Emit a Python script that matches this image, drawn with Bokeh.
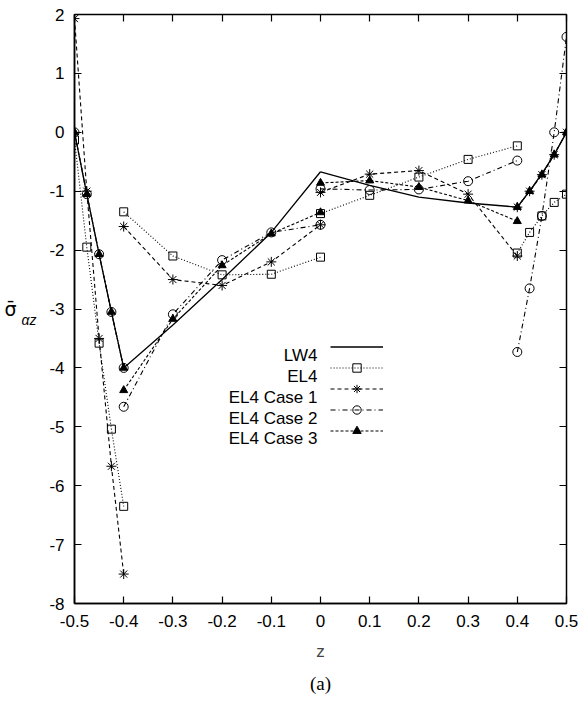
import math
from bokeh.plotting import figure
from bokeh.models import (Range1d, FixedTicker, LinearAxis, Label, Legend, LegendItem, Title)
from bokeh.embed import file_html
from bokeh.resources import INLINE

# ---- data (4 layers, 5 points each) ----
z_layers = [
    [-0.5, -0.475, -0.45, -0.425, -0.4],
    [-0.4, -0.3, -0.2, -0.1, 0.0],
    [0.0, 0.1, 0.2, 0.3, 0.4],
    [0.4, 0.425, 0.45, 0.475, 0.5],
]
lw4 = [[0.0, -1.05, -2.07, -3.05, -4.0],
       [-4.0, -3.27, -2.5, -1.70, -0.67],
       [-0.67, -0.9, -1.1, -1.2, -1.27],
       [-1.27, -1.0, -0.7, -0.38, 0.0]]
el4 = [[-0.13, -1.95, -3.58, -5.04, -6.35],
       [-1.35, -2.1, -2.42, -2.41, -2.12],
       [-1.38, -1.07, -0.76, -0.46, -0.23],
       [-2.05, -1.70, -1.42, -1.19, -1.05]]
el4_case1 = [[1.93, -1.0, -3.5, -5.67, -7.5],
             [-1.6, -2.5, -2.6, -2.2, -1.57],
             [-1.02, -0.71, -0.65, -1.05, -2.1],
             [-1.27, -1.0, -0.72, -0.38, 0.0]]
el4_case2 = [[0.0, -1.05, -2.07, -3.05, -4.0],
             [-4.66, -3.09, -2.17, -1.70, -1.57],
             [-0.96, -0.98, -0.97, -0.83, -0.48],
             [-3.73, -2.65, -1.42, 0.0, 1.62]]
el4_case3 = [[0.0, -1.05, -2.07, -3.05, -4.0],
             [-4.38, -3.17, -2.26, -1.72, -1.36],
             [-0.86, -0.82, -0.93, -1.16, -1.51],
             [-1.27, -1.0, -0.72, -0.38, 0.0]]

series_names = ["LW4", "EL4", "EL4 Case 1", "EL4 Case 2", "EL4 Case 3"]
x_ticks = [-0.5, -0.4, -0.3, -0.2, -0.1, 0.0, 0.1, 0.2, 0.3, 0.4, 0.5]
x_tick_labels = ["-0.5", "-0.4", "-0.3", "-0.2", "-0.1", "0", "0.1", "0.2", "0.3", "0.4", "0.5"]
y_ticks = [-8, -7, -6, -5, -4, -3, -2, -1, 0, 1, 2]
y_tick_labels = ["-8", "-7", "-6", "-5", "-4", "-3", "-2", "-1", "0", "1", "2"]
y_label_main = "σ̄"
y_label_sub = "αz"


def flatten(layers_y):
    xs, ys = [], []
    for zl, yl in zip(z_layers, layers_y):
        xs += zl + [math.nan]
        ys += yl + [math.nan]
    return xs[:-1], ys[:-1]


FONT = "Liberation Sans"

p = figure(width=584, height=706, output_backend="svg", toolbar_location=None,
           x_range=Range1d(-0.5, 0.5), y_range=Range1d(-8, 2),
           min_border_left=74, min_border_right=18, min_border_top=14, min_border_bottom=103)
p.grid.visible = False
p.outline_line_color = "black"
p.outline_line_width = 1.5
p.background_fill_color = "white"
p.border_fill_color = "white"

for ax in p.xaxis + p.yaxis:
    ax.major_tick_in = 7
    ax.major_tick_out = 0
    ax.minor_tick_line_color = None
    ax.axis_line_width = 1.5
    ax.major_tick_line_width = 1.2
    ax.major_label_text_font = FONT
    ax.major_label_text_font_size = "17px"
    ax.major_label_text_color = "black"

p.xaxis.ticker = FixedTicker(ticks=x_ticks)
p.xaxis.major_label_overrides = {t: s for t, s in zip(x_ticks, x_tick_labels)}
p.xaxis.major_label_standoff = 11
p.xaxis.axis_label = "z"
p.xaxis.axis_label_text_font = FONT
p.xaxis.axis_label_text_font_style = "normal"
p.xaxis.axis_label_text_font_size = "17px"
p.xaxis.axis_label_standoff = 12

p.yaxis.ticker = FixedTicker(ticks=y_ticks)
p.yaxis.major_label_overrides = {t: s for t, s in zip(y_ticks, y_tick_labels)}
p.yaxis.major_label_standoff = 10

# outer left axis carrying the y label: "σ̄" as axis label, "αz" as a subscript tick label
sub_tick = [-3.18]
ylab = LinearAxis(ticker=FixedTicker(ticks=sub_tick),
                  major_label_overrides={sub_tick[0]: y_label_sub},
                  major_label_text_font=FONT, major_label_text_font_size="14px",
                  major_label_text_font_style="italic", major_label_text_color="black",
                  major_label_standoff=10, major_tick_in=0, major_tick_out=0,
                  major_tick_line_color=None, minor_tick_line_color=None,
                  axis_line_color=None,
                  axis_label=y_label_main, axis_label_orientation="horizontal",
                  axis_label_text_font="DejaVu Sans", axis_label_text_font_size="19px",
                  axis_label_text_font_style="normal", axis_label_text_color="black",
                  axis_label_standoff=2)
p.add_layout(ylab, "left")

# mirrored ticks on top and right (no labels)
top = LinearAxis(ticker=FixedTicker(ticks=x_ticks), major_tick_in=7, major_tick_out=0,
                 minor_tick_line_color=None, major_label_text_font_size="1px",
                 major_label_text_color=None,
                 axis_line_color=None, major_tick_line_width=1.2, major_label_standoff=0)
right = LinearAxis(ticker=FixedTicker(ticks=y_ticks), major_tick_in=7, major_tick_out=0,
                   minor_tick_line_color=None, major_label_text_font_size="1px",
                   major_label_text_color=None,
                   axis_line_color=None, major_tick_line_width=1.2, major_label_standoff=0)
p.add_layout(top, "above")
p.add_layout(right, "right")

# ---- series ----
styles = [
    (lw4, None, None, None),
    (el4, "1 2", "square", None),
    (el4_case1, "4 3", "asterisk", None),
    (el4_case2, "5 3 1 3", "circle", None),
    (el4_case3, "3 2", "triangle", "black"),
]
items = []
for name, (data, dash, marker, fill) in zip(series_names, styles):
    xs, ys = flatten(data)
    rs = []
    r = p.line(xs, ys, line_color="black", line_width=1.3 if dash is None else 1.1,
               line_dash=dash if dash else "solid")
    rs.append(r)
    if marker:
        size = {"square": 8, "asterisk": 10, "circle": 9, "triangle": 8}[marker]
        m = p.scatter(xs, ys, marker=marker, size=size, line_color="black", line_width=1,
                      fill_color=fill)
        rs.append(m)
    items.append(LegendItem(label=" ", renderers=rs))

legend = Legend(items=items, location=(256, 162), orientation="vertical",
                glyph_width=53, glyph_height=21, label_height=21, label_width=0,
                label_standoff=0, spacing=0, padding=0, margin=0,
                label_text_font_size="1px", label_text_color=None,
                border_line_color=None, background_fill_alpha=0)
p.add_layout(legend)

# legend texts (to the left of the samples)
base_y = [248, 227, 206.3, 185.5, 165]
for name, by in zip(series_names, base_y):
    p.add_layout(Label(x=243, y=by, x_units="screen", y_units="screen", text=name,
                       text_align="right", text_baseline="alphabetic",
                       text_font=FONT, text_font_size="17px", text_color="black"))

# caption
p.add_layout(Title(text="(a)", align="center", text_font="Liberation Serif",
                   text_font_size="19px", text_font_style="normal", text_color="black",
                   standoff=14), "below")

open("out.html", "w").write(file_html(p, INLINE))
